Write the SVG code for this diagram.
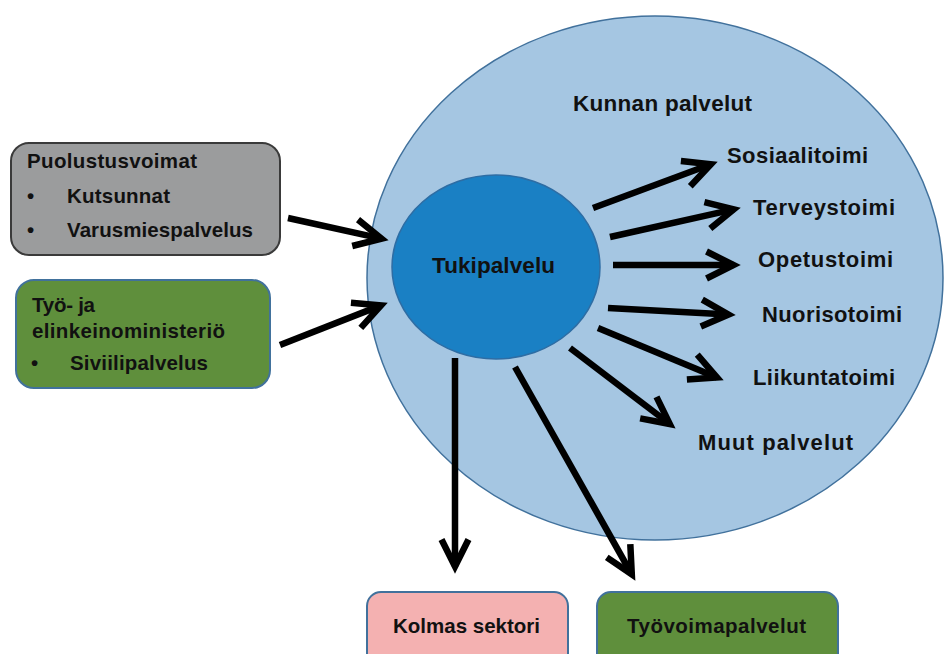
<svg xmlns="http://www.w3.org/2000/svg" width="944" height="654" viewBox="0 0 944 654">
<defs>
<style>
.t{font-family:"Liberation Sans",Arial,sans-serif;font-weight:bold;fill:#111;}
.s20{font-size:20.5px;}
.s21{font-size:22px;}
.s22{font-size:22.5px;}
.arr{stroke:#000;stroke-width:6.5;fill:none;marker-end:url(#ah);}
</style>
<marker id="ah" markerUnits="userSpaceOnUse" markerWidth="60" markerHeight="60" refX="0" refY="0" orient="auto" overflow="visible">
<path d="M-27,-13.5 L0,0 L-27,13.5" fill="none" stroke="#000" stroke-width="6.5" stroke-linejoin="miter"/>
</marker>
</defs>
<rect width="944" height="654" fill="#fff"/>
<g id="kunnan">
<ellipse cx="655" cy="278" rx="288" ry="262" fill="#a5c6e2" stroke="#41719c" stroke-width="1.5"/>
<text class="t s22" x="573" y="111" textLength="179">Kunnan palvelut</text>
</g>
<g id="tukipalvelu">
<ellipse cx="496" cy="267" rx="104" ry="92" fill="#1a80c4" stroke="#2e6da4" stroke-width="1.5"/>
<text class="t s22" x="432" y="273" textLength="123">Tukipalvelu</text>
</g>
<g id="puolustusvoimat">
<rect x="11" y="143" width="269" height="112" rx="18" fill="#9b9c9d" stroke="#3a3a3a" stroke-width="2"/>
<text class="t s20" x="27" y="168" textLength="170">Puolustusvoimat</text>
<text class="t s20" x="27" y="203">•</text>
<text class="t s20" x="67" y="203" textLength="103">Kutsunnat</text>
<text class="t s20" x="27" y="237">•</text>
<text class="t s20" x="67" y="237" textLength="186">Varusmiespalvelus</text>
</g>
<g id="tem">
<rect x="16" y="280" width="254" height="108" rx="18" fill="#5f8f3c" stroke="#41719c" stroke-width="2"/>
<text class="t s20" x="32" y="312" textLength="63">Työ- ja</text>
<text class="t s20" x="32" y="338" textLength="193">elinkeinoministeriö</text>
<text class="t s20" x="31" y="370">•</text>
<text class="t s20" x="70" y="370" textLength="138">Siviilipalvelus</text>
</g>
<g id="sosiaalitoimi"><text class="t s21" x="727" y="163" textLength="141">Sosiaalitoimi</text></g>
<g id="terveystoimi"><text class="t s21" x="753" y="215" textLength="142">Terveystoimi</text></g>
<g id="opetustoimi"><text class="t s21" x="758" y="267" textLength="135">Opetustoimi</text></g>
<g id="nuorisotoimi"><text class="t s21" x="762" y="322" textLength="140">Nuorisotoimi</text></g>
<g id="liikuntatoimi"><text class="t s21" x="753" y="385" textLength="142">Liikuntatoimi</text></g>
<g id="muut"><text class="t s21" x="698" y="450" textLength="155">Muut palvelut</text></g>
<g id="kolmas">
<rect x="367" y="592" width="201" height="90" rx="14" fill="#f4b1b1" stroke="#41719c" stroke-width="2"/>
<text class="t s20" x="393" y="633" textLength="147">Kolmas sektori</text>
</g>
<g id="tyovoima">
<rect x="597" y="592" width="241" height="90" rx="14" fill="#5f8f3c" stroke="#41719c" stroke-width="2"/>
<text class="t s20" x="627" y="633" textLength="179">Työvoimapalvelut</text>
</g>
<g id="connectors">
<line class="arr" x1="288" y1="218" x2="381.5" y2="238.6"/>
<line class="arr" x1="280" y1="345" x2="381" y2="305.4"/>
<line class="arr" x1="593" y1="208" x2="710.9" y2="164.3"/>
<line class="arr" x1="610" y1="237" x2="733.7" y2="209.4"/>
<line class="arr" x1="613" y1="265" x2="733.5" y2="265"/>
<line class="arr" x1="608" y1="308" x2="728.5" y2="314.6"/>
<line class="arr" x1="598" y1="328" x2="717" y2="377.5"/>
<line class="arr" x1="570" y1="348" x2="669.8" y2="424"/>
<line class="arr" x1="455" y1="358" x2="455" y2="566.5"/>
<line class="arr" x1="515" y1="367" x2="631.8" y2="574.3"/>
</g>
</svg>
